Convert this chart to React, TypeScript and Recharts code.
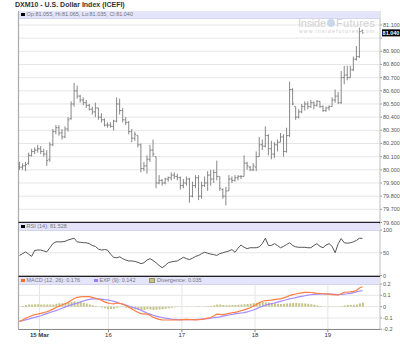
import { ComposedChart, Bar, Line, XAxis, YAxis, CartesianGrid, ReferenceLine } from "recharts";

// hourly bars, Sun 14 Mar evening .. Fri 19 Mar
const opens = [
  80.04, 80.02, 80.03, 80.05, 80.11, 80.14, 80.15, 80.16, 80.14, 80.12,
  80.08, 80.19, 80.29, 80.32, 80.28, 80.25, 80.31, 80.39, 80.5, 80.6,
  80.56, 80.53, 80.51, 80.49, 80.46, 80.44, 80.47, 80.4, 80.38, 80.34,
  80.34, 80.33, 80.37, 80.5, 80.45, 80.38, 80.36, 80.29, 80.24, 80.26,
  80.19, 80.01, 80.03, 80.08, 80.15, 80.1, 79.9, 79.92, 79.9, 79.93,
  79.94, 79.96, 79.95, 79.94, 79.88, 79.9, 79.93, 79.8, 79.88, 79.94,
  79.8, 79.88, 79.9, 79.96, 79.93, 79.98, 79.95, 79.85, 79.8, 79.84,
  79.93, 79.92, 79.94, 79.95, 79.95, 80.05, 80.02, 80.0, 80.02, 80.1,
  80.19, 80.18, 80.26, 80.16, 80.12, 80.19, 80.21, 80.25, 80.14, 80.26,
  80.61, 80.48, 80.4, 80.44, 80.48, 80.5, 80.48, 80.51, 80.49, 80.52,
  80.48, 80.45, 80.47, 80.48, 80.53, 80.56, 80.51, 80.7, 80.72, 80.7,
  80.76, 80.84, 80.86, 81.055,
];
const highs = [
  80.06, 80.05, 80.06, 80.13, 80.16, 80.17, 80.19, 80.18, 80.16, 80.15,
  80.21, 80.31, 80.34, 80.34, 80.31, 80.33, 80.4, 80.52, 80.66, 80.64,
  80.57, 80.55, 80.53, 80.5, 80.48, 80.51, 80.47, 80.43, 80.39, 80.36,
  80.36, 80.38, 80.55, 80.54, 80.47, 80.4, 80.37, 80.31, 80.29, 80.26,
  80.2, 80.06, 80.11, 80.19, 80.23, 80.1, 79.96, 79.93, 79.94, 79.95,
  79.98, 79.98, 79.97, 79.95, 79.93, 79.95, 79.94, 79.91, 79.96, 79.96,
  79.91, 79.95, 79.99, 80.0, 80.0, 80.07, 79.95, 79.86, 79.87, 79.96,
  79.95, 79.96, 79.96, 79.96, 80.11, 80.06, 80.03, 80.05, 80.14, 80.25,
  80.23, 80.33, 80.27, 80.22, 80.21, 80.23, 80.28, 80.27, 80.32, 80.67,
  80.62, 80.48, 80.46, 80.5, 80.52, 80.52, 80.53, 80.52, 80.53, 80.52,
  80.49, 80.48, 80.49, 80.55, 80.61, 80.59, 80.75, 80.79, 80.79, 80.79,
  80.86, 80.94, 81.08, 81.065,
];
const lows = [
  80.0, 80.0, 79.99, 80.04, 80.1, 80.12, 80.13, 80.12, 80.1, 80.03,
  80.06, 80.18, 80.27, 80.26, 80.23, 80.24, 80.29, 80.38, 80.48, 80.54,
  80.51, 80.49, 80.47, 80.45, 80.42, 80.4, 80.38, 80.36, 80.33, 80.32,
  80.32, 80.3, 80.36, 80.42, 80.36, 80.34, 80.27, 80.21, 80.22, 80.17,
  79.98, 79.99, 79.97, 80.06, 80.1, 79.86, 79.89, 79.88, 79.89, 79.91,
  79.92, 79.93, 79.92, 79.85, 79.86, 79.88, 79.75, 79.79, 79.86, 79.77,
  79.78, 79.87, 79.84, 79.88, 79.9, 79.92, 79.84, 79.78, 79.73, 79.84,
  79.9, 79.91, 79.92, 79.93, 79.95, 80.0, 79.99, 79.99, 79.99, 80.1,
  80.15, 80.17, 80.11, 80.08, 80.09, 80.14, 80.21, 80.1, 80.13, 80.25,
  80.49, 80.38, 80.39, 80.43, 80.45, 80.46, 80.47, 80.46, 80.48, 80.47,
  80.44, 80.44, 80.45, 80.48, 80.51, 80.5, 80.5, 80.65, 80.68, 80.7,
  80.75, 80.83, 80.85, 81.035,
];
const closes = [
  80.02, 80.03, 80.04, 80.11, 80.14, 80.15, 80.16, 80.14, 80.12, 80.07,
  80.19, 80.29, 80.32, 80.28, 80.25, 80.31, 80.38, 80.5, 80.6, 80.56,
  80.53, 80.51, 80.49, 80.46, 80.44, 80.47, 80.4, 80.38, 80.34, 80.34,
  80.33, 80.37, 80.5, 80.45, 80.38, 80.36, 80.29, 80.24, 80.27, 80.19,
  80.01, 80.03, 80.08, 80.15, 80.12, 79.9, 79.92, 79.9, 79.93, 79.94,
  79.96, 79.95, 79.94, 79.88, 79.9, 79.93, 79.8, 79.88, 79.94, 79.8,
  79.88, 79.9, 79.96, 79.93, 79.98, 79.95, 79.86, 79.8, 79.84, 79.93,
  79.92, 79.94, 79.95, 79.95, 80.05, 80.03, 80.0, 80.03, 80.1, 80.19,
  80.18, 80.26, 80.16, 80.12, 80.19, 80.21, 80.25, 80.14, 80.26, 80.61,
  80.5, 80.4, 80.44, 80.48, 80.5, 80.48, 80.51, 80.49, 80.52, 80.48,
  80.45, 80.47, 80.48, 80.53, 80.56, 80.51, 80.7, 80.72, 80.7, 80.76,
  80.84, 80.86, 81.05, 81.04,
];

const rsiValues = [
  44, 48, 52, 47, 42, 55, 56, 56, 54, 52,
  61, 70, 74, 74, 74, 75, 78, 80, 82, 74,
  73, 72, 72, 70, 66, 64, 58, 56, 57, 56,
  47, 40, 39, 41, 37, 34, 32, 32, 31, 29,
  26, 28, 34, 37, 33, 28, 22, 17, 22, 28,
  30, 31, 32, 36, 40, 37, 35, 38, 42, 44,
  48, 51, 49, 47, 46, 44, 48, 50, 52, 54,
  57, 51, 60, 67, 62, 59, 61, 61, 61, 63,
  70, 82, 66, 66, 70, 66, 61, 64, 68, 72,
  66, 63, 62, 62, 62, 61, 61, 66, 70, 64,
  61, 67, 70, 64, 50, 70, 81, 72, 71, 72,
  74, 77, 82, 81.5,
];

const macdValues = [
  -0.13, -0.118, -0.102, -0.092, -0.08, -0.07, -0.066, -0.06, -0.053, -0.045,
  -0.035, -0.022, -0.008, 0.004, 0.014, 0.026, 0.038, 0.055, 0.072, 0.082,
  0.087, 0.088, 0.089, 0.088, 0.082, 0.074, 0.066, 0.056, 0.042, 0.034,
  0.028, 0.024, 0.03, 0.03, 0.022, 0.01, -0.004, -0.02, -0.036, -0.05,
  -0.062, -0.064, -0.066, -0.076, -0.094, -0.104, -0.112, -0.117, -0.118, -0.118,
  -0.118, -0.117, -0.118, -0.116, -0.114, -0.112, -0.114, -0.115, -0.116, -0.115,
  -0.112, -0.108, -0.102, -0.096, -0.082, -0.066, -0.068, -0.07, -0.066, -0.06,
  -0.054, -0.05, -0.044, -0.036, -0.028, -0.02, -0.01, 0.004, 0.018, 0.034,
  0.048, 0.054, 0.056, 0.058, 0.062, 0.066, 0.068, 0.078, 0.086, 0.097,
  0.106, 0.112, 0.118, 0.122, 0.126, 0.127, 0.125, 0.122, 0.118, 0.116,
  0.114, 0.112, 0.11, 0.106, 0.104, 0.103, 0.114, 0.127, 0.128, 0.131,
  0.135, 0.142, 0.165, 0.176,
];
const signalValues = [
  -0.13, -0.124, -0.117, -0.11, -0.102, -0.095, -0.088, -0.08, -0.071, -0.062,
  -0.052, -0.043, -0.035, -0.025, -0.014, -0.004, 0.006, 0.016, 0.024, 0.03,
  0.04, 0.05, 0.058, 0.064, 0.068, 0.069, 0.068, 0.066, 0.062, 0.059,
  0.054, 0.046, 0.04, 0.03, 0.022, 0.014, 0.006, -0.004, -0.012, -0.02,
  -0.032, -0.044, -0.056, -0.066, -0.076, -0.084, -0.09, -0.096, -0.102, -0.106,
  -0.11, -0.112, -0.114, -0.115, -0.115, -0.115, -0.115, -0.115, -0.114, -0.112,
  -0.11, -0.108, -0.106, -0.102, -0.098, -0.094, -0.09, -0.084, -0.079, -0.074,
  -0.069, -0.064, -0.06, -0.056, -0.053, -0.046, -0.038, -0.03, -0.02, -0.008,
  0.002, 0.012, 0.02, 0.026, 0.032, 0.04, 0.047, 0.054, 0.061, 0.068,
  0.074, 0.08, 0.086, 0.091, 0.096, 0.101, 0.105, 0.108, 0.11, 0.111,
  0.112, 0.112, 0.111, 0.11, 0.108, 0.106, 0.108, 0.111, 0.114, 0.118,
  0.124, 0.13, 0.136, 0.142,
];
const divergenceValues = [
  0.0, 0.006, 0.014, 0.018, 0.02, 0.022, 0.022, 0.02, 0.02, 0.018,
  0.018, 0.02, 0.026, 0.03, 0.03, 0.032, 0.034, 0.04, 0.046, 0.044,
  0.04, 0.034, 0.028, 0.02, 0.012, 0.006, -0.002, -0.008, -0.014, -0.02,
  -0.02, -0.018, -0.01, -0.006, -0.006, -0.01, -0.014, -0.02, -0.026, -0.03,
  -0.034, -0.03, -0.024, -0.026, -0.03, -0.028, -0.026, -0.022, -0.018, -0.014,
  -0.01, -0.006, -0.004, -0.002, 0.0, 0.002, 0.0, 0.0, -0.002, -0.002,
  0.0, 0.002, 0.004, 0.006, 0.012, 0.02, 0.018, 0.014, 0.012, 0.012,
  0.014, 0.014, 0.016, 0.018, 0.022, 0.024, 0.026, 0.03, 0.034, 0.038,
  0.04, 0.038, 0.036, 0.032, 0.03, 0.026, 0.024, 0.026, 0.028, 0.03,
  0.032, 0.032, 0.03, 0.03, 0.028, 0.026, 0.022, 0.016, 0.01, 0.006,
  0.002, 0.0, -0.002, -0.004, -0.004, -0.002, 0.004, 0.01, 0.014, 0.014,
  0.016, 0.018, 0.028, 0.035,
];

// day boundaries, in bar units
const dayTicks = [6.6, 29.3, 53.5, 77.6, 101.6];
const dayLabels = ["15 Mar", "16", "17", "18", "19"];
const priceTicks = [79.6, 79.7, 79.8, 79.9, 80.0, 80.1, 80.2, 80.3, 80.4, 80.5, 80.6, 80.7, 80.8, 80.9, 81.0, 81.1];
const rsiTicks = [0, 50, 100];
const macdTicks = [-0.2, -0.1, 0, 0.1, 0.2];

const X_DOMAIN = [-0.33, 118.78];
const FONT = "'Liberation Sans', Arial, sans-serif";
const last = closes.length - 1;

const data = closes.map((close, i) => ({
  i,
  open: opens[i],
  high: highs[i],
  low: lows[i],
  close,
  range: [lows[i], highs[i]],
  rsi: rsiValues[i],
  macd: macdValues[i],
  signal: signalValues[i],
  div: divergenceValues[i],
}));

const OhlcBar = (props: any) => {
  const { x, y, width, height, payload } = props;
  const cx = x + width / 2;
  const span = payload.high - payload.low || 1;
  const toY = (v: number) => y + ((payload.high - v) / span) * height;
  return (
    <g stroke="#7a7a7a" strokeWidth={0.9}>
      <line x1={cx} x2={cx} y1={y} y2={y + height} />
      <line x1={cx - 1.4} x2={cx} y1={toY(payload.open)} y2={toY(payload.open)} />
      <line x1={cx} x2={cx + 1.4} y1={toY(payload.close)} y2={toY(payload.close)} />
    </g>
  );
};

const makeTick = (fmt: (v: number) => string, hide?: (v: number) => boolean) => (props: any) => {
  const { x, y, payload } = props;
  if (hide && hide(payload.value)) return <g />;
  return (
    <text x={x} y={y} dy={2} fontSize={5.5} fill="#555" fontFamily={FONT} textAnchor="start">
      {fmt(payload.value)}
    </text>
  );
};

const PriceTick = makeTick(
  (v) => v.toFixed(3),
  (v) => Math.abs(v - closes[last]) < 0.05
);
const RsiTick = makeTick((v) => String(v));
const MacdTick = makeTick((v) => String(v));

const DayTick = (props: any) => {
  const { x, y, payload } = props;
  const idx = dayTicks.indexOf(payload.value);
  return (
    <text x={x} y={y + 4.5} fontSize={6} fill="#333" fontFamily={FONT} textAnchor="middle" fontWeight={idx === 0 ? "bold" : "normal"}>
      {dayLabels[idx]}
    </text>
  );
};

const LastPriceTag = (props: any) => {
  const vb = props.viewBox || {};
  const x = vb.x + vb.width + 2;
  const y = vb.y;
  return (
    <g>
      <rect x={x} y={y - 3.5} width={18} height={7} fill="#000" />
      <text x={x + 9} y={y + 2} fontSize={5.5} fill="#fff" fontFamily={FONT} textAnchor="middle" fontWeight="bold">
        {closes[last].toFixed(3)}
      </text>
    </g>
  );
};

const band = (top: number): React.CSSProperties => ({
  position: "absolute",
  left: 19,
  top,
  width: 360,
  height: 6.5,
  background: "#e4e4fa",
  borderBottom: "1px solid #d4d4ee",
  fontFamily: FONT,
  fontSize: 5.5,
  lineHeight: "7px",
  color: "#777",
  whiteSpace: "nowrap",
  display: "flex",
  alignItems: "center",
});

const Swatch = ({ color, border }: { color: string; border?: string }) => (
  <span
    style={{
      display: "inline-block",
      width: 3.5,
      height: 3.5,
      background: color,
      border: border ? `0.5px solid ${border}` : undefined,
      margin: "0 2px 0 2px",
    }}
  />
);

const xAxisHidden = (
  <XAxis type="number" dataKey="i" domain={X_DOMAIN} ticks={dayTicks} allowDataOverflow height={0} tick={false} axisLine={false} tickLine={false} interval={0} />
);

const App = () => {
  return (
    <div style={{ position: "absolute", left: 0, top: 0, width: 400, height: 351, background: "#fff", overflow: "hidden" }}>
      <style>{`.recharts-surface { overflow: visible; }`}</style>
      <div style={{ position: "absolute", left: 15, top: 1, fontFamily: FONT, fontSize: 7, fontWeight: "bold", color: "#333" }}>
        DXM10 - U.S. Dollar Index (ICEFI)
      </div>

      <div style={{ position: "absolute", left: 0, top: 0 }}>
        <ComposedChart width={400} height={223} data={data} margin={{ top: 18, right: 0, bottom: 0.5, left: 18.5 }}>
          <CartesianGrid stroke="#e6e6e6" />
          {xAxisHidden}
          <YAxis orientation="right" width={20} domain={[79.6, 81.153]} ticks={priceTicks} allowDataOverflow interval={0} axisLine={false} tickLine={{ stroke: "#999" }} tickSize={2} tickMargin={1} tick={<PriceTick />} />
          <Bar dataKey="range" shape={<OhlcBar />} barSize={3} isAnimationActive={false} />
          <ReferenceLine y={closes[last]} stroke="none" label={<LastPriceTag />} />
        </ComposedChart>
      </div>

      <div style={{ position: "absolute", left: 0, top: 222 }}>
        <ComposedChart width={400} height={54} data={data} margin={{ top: 8, right: 0, bottom: 0.5, left: 18.5 }}>
          <CartesianGrid stroke="#e6e6e6" />
          {xAxisHidden}
          <YAxis orientation="right" width={20} domain={[0, 100]} ticks={rsiTicks} allowDataOverflow interval={0} axisLine={false} tickLine={{ stroke: "#999" }} tickSize={2} tickMargin={1} tick={<RsiTick />} />
          <Line dataKey="rsi" stroke="#555" strokeWidth={1} dot={false} isAnimationActive={false} />
        </ComposedChart>
      </div>

      <div style={{ position: "absolute", left: 0, top: 276 }}>
        <ComposedChart width={400} height={75} data={data} margin={{ top: 8, right: 0, bottom: 0, left: 18.5 }}>
          <CartesianGrid stroke="#e6e6e6" />
          <XAxis type="number" dataKey="i" domain={X_DOMAIN} ticks={dayTicks} allowDataOverflow height={21.7} interval={0} axisLine={false} tickLine={{ stroke: "#888" }} tickSize={3} tickMargin={0} tick={<DayTick />} />
          <YAxis orientation="right" width={20} domain={[-0.2, 0.2]} ticks={macdTicks} allowDataOverflow interval={0} axisLine={false} tickLine={{ stroke: "#999" }} tickSize={2} tickMargin={1} tick={<MacdTick />} />
          <Bar dataKey="div" fill="#c4c488" barSize={2} isAnimationActive={false} />
          <Line dataKey="signal" stroke="#a58cff" strokeWidth={1.2} dot={false} isAnimationActive={false} />
          <Line dataKey="macd" stroke="#ff7d40" strokeWidth={1.2} dot={false} isAnimationActive={false} />
        </ComposedChart>
      </div>

      {/* panel frames and watermark */}
      <svg width={400} height={351} style={{ position: "absolute", left: 0, top: 0, pointerEvents: "none" }}>
        <line x1={18.5} x2={18.5} y1={11} y2={329.5} stroke="#aaa" strokeWidth={1.2} />
        <line x1={380} x2={380} y1={11} y2={329.5} stroke="#c8c8c8" strokeWidth={1} />
        <line x1={18.5} x2={380} y1={222.5} y2={222.5} stroke="#222" strokeWidth={1.3} />
        <line x1={18.5} x2={380} y1={276.3} y2={276.3} stroke="#222" strokeWidth={1.3} />
        <line x1={18.5} x2={380} y1={329.5} y2={329.5} stroke="#888" strokeWidth={1} />
        <text x={298} y={27} fontSize={11} fill="#d2d2d2" fontFamily={FONT} textLength={28}>Inside</text>
        <circle cx={331} cy={23} r={4} fill="#c9d9e9" />
        <text x={336} y={27} fontSize={11} fill="#d2d2d2" fontFamily={FONT} textLength={39}>Futures</text>
        <text x={299} y={33} fontSize={5.2} fill="#cfcfcf" fontFamily={FONT} textLength={75}>www.insidefutures.com</text>
      </svg>

      <div style={band(11)}>
        <Swatch color="#000" />
        Op:{opens[last].toFixed(3)}, Hi:{highs[last].toFixed(3)}, Lo:{lows[last].toFixed(3)}, Cl:{closes[last].toFixed(3)}
      </div>
      <div style={band(223.3)}>
        <Swatch color="#000" />
        RSI (14): 81.528
      </div>
      <div style={band(277)}>
        <Swatch color="#ff6a2a" />
        MACD (12, 26): {macdValues[last].toFixed(3)}
        <span style={{ width: 12 }} />
        <Swatch color="#9a7cff" />
        EXP (9): {signalValues[last].toFixed(3)}
        <span style={{ width: 12 }} />
        <Swatch color="#c4c488" border="#999966" />
        Divergence: {divergenceValues[last].toFixed(3)}
      </div>
    </div>
  );
};

export default App;
